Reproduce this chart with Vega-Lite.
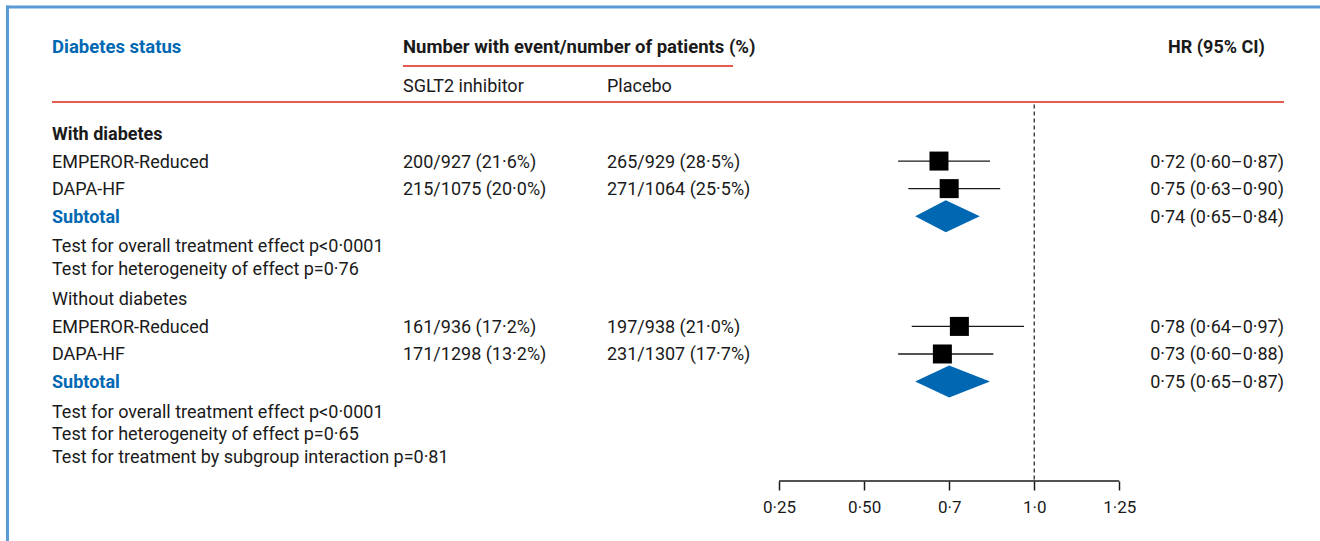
{
  "$schema": "https://vega.github.io/schema/vega-lite/v6.json",
  "width": 1320,
  "height": 481,
  "autosize": {"type": "none"},
  "padding": {"left": 0, "top": 0, "right": 0, "bottom": 60},
  "background": "white",
  "config": {
    "view": {"stroke": null},
    "axisX": {"grid": false, "domain": false, "titleOpacity": 0, "labelFont": "Roboto", "labelFontSize": 17, "labelColor": "#1a1a1a", "tickColor": "#1a1a1a", "tickSize": 9, "tickWidth": 1.5, "labelPadding": 9}
  },
  "datasets": {
    "rows": [
      {"row": 0, "kind": "group", "label": "With diabetes"},
      {"row": 1, "kind": "study", "label": "EMPEROR-Reduced", "sglt2": "200/927 (21·6%)", "placebo": "265/929 (28·5%)", "hr": 0.72, "lo": 0.60, "hi": 0.87, "ci": "0·72 (0·60–0·87)"},
      {"row": 2, "kind": "study", "label": "DAPA-HF", "sglt2": "215/1075 (20·0%)", "placebo": "271/1064 (25·5%)", "hr": 0.75, "lo": 0.63, "hi": 0.90, "ci": "0·75 (0·63–0·90)"},
      {"row": 3, "kind": "subtotal", "label": "Subtotal", "hr": 0.74, "lo": 0.65, "hi": 0.84, "ci": "0·74 (0·65–0·84)"},
      {"row": 4, "kind": "test", "label": "Test for overall treatment effect p<0·0001\nTest for heterogeneity of effect p=0·76"},
      {"row": 6, "kind": "group", "label": "Without diabetes"},
      {"row": 7, "kind": "study", "label": "EMPEROR-Reduced", "sglt2": "161/936 (17·2%)", "placebo": "197/938 (21·0%)", "hr": 0.78, "lo": 0.64, "hi": 0.97, "ci": "0·78 (0·64–0·97)"},
      {"row": 8, "kind": "study", "label": "DAPA-HF", "sglt2": "171/1298 (13·2%)", "placebo": "231/1307 (17·7%)", "hr": 0.73, "lo": 0.60, "hi": 0.88, "ci": "0·73 (0·60–0·88)"},
      {"row": 9, "kind": "subtotal", "label": "Subtotal", "hr": 0.75, "lo": 0.65, "hi": 0.87, "ci": "0·75 (0·65–0·87)"},
      {"row": 10, "kind": "test", "label": "Test for overall treatment effect p<0·0001\nTest for heterogeneity of effect p=0·65\nTest for treatment by subgroup interaction p=0·81"}
    ]
  },
  "data": {"name": "rows"},
  "layer": [
    {
      "data": {"values": [{}]},
      "mark": {"type": "rule", "color": "#1a1a1a", "strokeWidth": 1.5},
      "encoding": {
        "x": {
          "datum": 0.25,
          "type": "quantitative",
          "scale": {"domain": [-2.04, 1.84], "nice": false, "zero": false},
          "axis": {
            "values": [0.25, 0.5, 0.75, 1, 1.25],
            "labelExpr": "datum.value == 0.25 ? '0·25' : datum.value == 0.5 ? '0·50' : datum.value == 0.75 ? '0·7' : datum.value == 1 ? '1·0' : '1·25'",
            "domain": false,
            "grid": false,
            "ticks": true,
            "labelFlush": false,
            "labelOverlap": false,
            "title": null
          }
        },
        "x2": {"datum": 1.25},
        "y": {"datum": 12.609, "type": "quantitative", "scale": {"domain": [-4.844, 12.609], "nice": false, "zero": false, "reverse": true}, "axis": null}
      }
    },
    {
      "data": {"values": [{}]},
      "mark": {"type": "rule", "color": "#5b9bd5", "strokeWidth": 3},
      "encoding": {
        "x": {"datum": -2.0224, "type": "quantitative"},
        "x2": {"datum": 1.85},
        "y": {"datum": -4.59, "type": "quantitative", "axis": null}
      }
    },
    {
      "data": {"values": [{}]},
      "mark": {"type": "rule", "color": "#5b9bd5", "strokeWidth": 3},
      "encoding": {
        "x": {"datum": -2.018, "type": "quantitative"},
        "y": {"datum": -4.64, "type": "quantitative", "axis": null},
        "y2": {"datum": 15}
      }
    },
    {
      "data": {"values": [{}]},
      "mark": {"type": "rule", "color": "#e2231a", "strokeWidth": 1.5},
      "encoding": {
        "x": {"datum": -0.8554, "type": "quantitative"},
        "x2": {"datum": 0.1146},
        "y": {"datum": -2.449, "type": "quantitative", "axis": null}
      }
    },
    {
      "data": {"values": [{}]},
      "mark": {"type": "rule", "color": "#e2231a", "strokeWidth": 1.5},
      "encoding": {
        "x": {"datum": -1.8872, "type": "quantitative"},
        "x2": {"datum": 1.7342},
        "y": {"datum": -1.143, "type": "quantitative", "axis": null}
      }
    },
    {
      "data": {"values": [{}]},
      "mark": {"type": "rule", "color": "#1a1a1a", "strokeWidth": 1.2, "strokeDash": [4, 3]},
      "encoding": {
        "x": {"datum": 1, "type": "quantitative"},
        "y": {"datum": -1.05, "type": "quantitative", "axis": null},
        "y2": {"datum": 12.609}
      }
    },
    {
      "transform": [{"filter": "datum.kind === 'study'"}],
      "mark": {"type": "rule", "color": "#1a1a1a", "strokeWidth": 1.3},
      "encoding": {
        "x": {"field": "lo", "type": "quantitative"},
        "x2": {"field": "hi"},
        "y": {"field": "row", "type": "quantitative", "axis": null}
      }
    },
    {
      "transform": [{"filter": "datum.kind === 'study'"}],
      "mark": {"type": "point", "shape": "square", "filled": true, "size": 361, "color": "#000000", "opacity": 1},
      "encoding": {
        "x": {"field": "hr", "type": "quantitative"},
        "y": {"field": "row", "type": "quantitative", "axis": null}
      }
    },
    {
      "transform": [
        {"filter": "datum.kind === 'subtotal'"},
        {"fold": ["lo", "hr", "hi"], "as": ["vertex", "value"]}
      ],
      "mark": {
        "type": "area",
        "orient": "vertical",
        "color": "#0068b2",
        "opacity": 1,
        "yOffset": {"expr": "datum.vertex === 'hr' ? -16 : 0"},
        "y2Offset": {"expr": "datum.vertex === 'hr' ? 16 : 0"}
      },
      "encoding": {
        "x": {"field": "value", "type": "quantitative"},
        "y": {"field": "row", "type": "quantitative", "axis": null},
        "y2": {"field": "row"},
        "detail": {"field": "row", "type": "nominal"}
      }
    },
    {
      "transform": [{"filter": "datum.kind === 'study' || datum.label === 'Without diabetes'"}],
      "mark": {"type": "text", "align": "left", "baseline": "middle", "dy": 1.5, "font": "Roboto", "fontSize": 18, "color": "#1a1a1a"},
      "encoding": {
        "x": {"datum": -1.8872, "type": "quantitative"},
        "y": {"field": "row", "type": "quantitative", "axis": null},
        "text": {"field": "label"}
      }
    },
    {
      "transform": [{"filter": "datum.label === 'With diabetes'"}],
      "mark": {"type": "text", "align": "left", "baseline": "middle", "dy": 1.5, "font": "Roboto", "fontSize": 18, "fontWeight": "bold", "color": "#1a1a1a"},
      "encoding": {
        "x": {"datum": -1.8872, "type": "quantitative"},
        "y": {"field": "row", "type": "quantitative", "axis": null},
        "text": {"field": "label"}
      }
    },
    {
      "transform": [{"filter": "datum.kind === 'subtotal'"}],
      "mark": {"type": "text", "align": "left", "baseline": "middle", "dy": 1.5, "font": "Roboto", "fontSize": 18, "fontWeight": "bold", "color": "#0068b2"},
      "encoding": {
        "x": {"datum": -1.8872, "type": "quantitative"},
        "y": {"field": "row", "type": "quantitative", "axis": null},
        "text": {"field": "label"}
      }
    },
    {
      "transform": [{"filter": "datum.kind === 'test'"}],
      "mark": {"type": "text", "align": "left", "baseline": "alphabetic", "dy": 8.5, "lineBreak": "\n", "lineHeight": 22.5, "font": "Roboto", "fontSize": 18, "color": "#1a1a1a"},
      "encoding": {
        "x": {"datum": -1.8872, "type": "quantitative"},
        "y": {"field": "row", "type": "quantitative", "axis": null},
        "text": {"field": "label"}
      }
    },
    {
      "transform": [{"filter": "datum.kind === 'study'"}],
      "mark": {"type": "text", "align": "left", "baseline": "middle", "dy": 1.5, "font": "Roboto", "fontSize": 18, "color": "#1a1a1a"},
      "encoding": {
        "x": {"datum": -0.8554, "type": "quantitative"},
        "y": {"field": "row", "type": "quantitative", "axis": null},
        "text": {"field": "sglt2"}
      }
    },
    {
      "transform": [{"filter": "datum.kind === 'study'"}],
      "mark": {"type": "text", "align": "left", "baseline": "middle", "dy": 1.5, "font": "Roboto", "fontSize": 18, "color": "#1a1a1a"},
      "encoding": {
        "x": {"datum": -0.2558, "type": "quantitative"},
        "y": {"field": "row", "type": "quantitative", "axis": null},
        "text": {"field": "placebo"}
      }
    },
    {
      "transform": [{"filter": "datum.kind === 'study' || datum.kind === 'subtotal'"}],
      "mark": {"type": "text", "align": "right", "baseline": "middle", "dy": 1.5, "font": "Roboto", "fontSize": 18, "color": "#1a1a1a"},
      "encoding": {
        "x": {"datum": 1.7342, "type": "quantitative"},
        "y": {"field": "row", "type": "quantitative", "axis": null},
        "text": {"field": "ci"}
      }
    },
    {
      "data": {"values": [{"text": "Diabetes status"}]},
      "mark": {"type": "text", "align": "left", "baseline": "middle", "dy": 1, "font": "Roboto", "fontSize": 18.5, "fontWeight": "bold", "color": "#0068b2"},
      "encoding": {
        "x": {"datum": -1.8872, "type": "quantitative"},
        "y": {"datum": -3.175, "type": "quantitative", "axis": null},
        "text": {"field": "text"}
      }
    },
    {
      "data": {"values": [{"text": "Number with event/number of patients (%)"}]},
      "mark": {"type": "text", "align": "left", "baseline": "middle", "dy": 1, "font": "Roboto", "fontSize": 18.5, "fontWeight": "bold", "color": "#1a1a1a"},
      "encoding": {
        "x": {"datum": -0.8554, "type": "quantitative"},
        "y": {"datum": -3.175, "type": "quantitative", "axis": null},
        "text": {"field": "text"}
      }
    },
    {
      "data": {"values": [{"text": "HR (95% CI)"}]},
      "mark": {"type": "text", "align": "center", "baseline": "middle", "dy": 1, "font": "Roboto", "fontSize": 18, "fontWeight": "bold", "color": "#1a1a1a"},
      "encoding": {
        "x": {"datum": 1.5358, "type": "quantitative"},
        "y": {"datum": -3.15, "type": "quantitative", "axis": null},
        "text": {"field": "text"}
      }
    },
    {
      "data": {"values": [{"text": "SGLT2 inhibitor"}]},
      "mark": {"type": "text", "align": "left", "baseline": "middle", "dy": 1.5, "font": "Roboto", "fontSize": 18, "color": "#1a1a1a"},
      "encoding": {
        "x": {"datum": -0.8554, "type": "quantitative"},
        "y": {"datum": -1.724, "type": "quantitative", "axis": null},
        "text": {"field": "text"}
      }
    },
    {
      "data": {"values": [{"text": "Placebo"}]},
      "mark": {"type": "text", "align": "left", "baseline": "middle", "dy": 1.5, "font": "Roboto", "fontSize": 18, "color": "#1a1a1a"},
      "encoding": {
        "x": {"datum": -0.2558, "type": "quantitative"},
        "y": {"datum": -1.724, "type": "quantitative", "axis": null},
        "text": {"field": "text"}
      }
    }
  ]
}
